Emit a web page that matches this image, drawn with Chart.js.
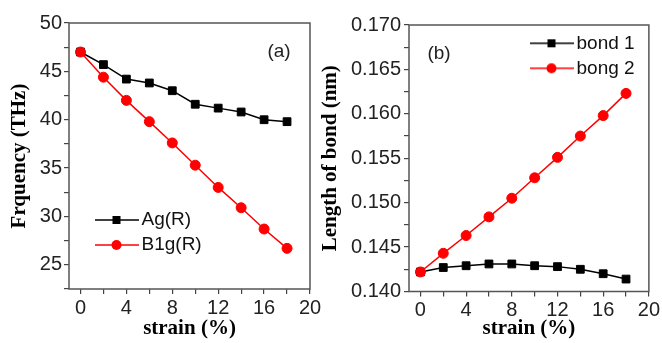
<!DOCTYPE html>
<html>
<head>
<meta charset="utf-8">
<script src="https://cdn.jsdelivr.net/npm/chart.js@4.4.0/dist/chart.umd.min.js"></script>
<style>
  body { margin: 0; background: #fff; }
  #wrap { position: relative; width: 662px; height: 343px; overflow: hidden; background: #fff; }
  #chartA { position: absolute; left: 0; top: 0; }
  #chartB { position: absolute; left: 305px; top: 0; }
</style>
</head>
<body>
<div id="wrap">
  <canvas id="chartA" width="331" height="343"></canvas>
  <canvas id="chartB" width="357" height="343"></canvas>
</div>
<script>
// datos
const strain = [0, 2, 4, 6, 8, 10, 12, 14, 16, 18];
const agR = [47.0, 45.7, 44.2, 43.8, 43.0, 41.6, 41.2, 40.8, 40.0, 39.8];
const b1gR = [47.0, 44.4, 42.0, 39.8, 37.6, 35.3, 33.0, 30.9, 28.7, 26.7];
const bond1 = [0.1422, 0.1427, 0.1429, 0.1431, 0.1431, 0.1429, 0.1428, 0.1425, 0.1420, 0.1414];
const bond2 = [0.1422, 0.1443, 0.1463, 0.1484, 0.1505, 0.1528, 0.1551, 0.1575, 0.1598, 0.1623];

const tickFont = { family: "Liberation Sans", size: 20 };
const legendFont = { family: "Liberation Sans", size: 19 };
const titleFont = { family: "Liberation Serif", size: 21, weight: "bold" };

function pts(ys) {
  return strain.map((x, i) => ({ x: x, y: ys[i] }));
}

// icono de leyenda: linea con marcador en el centro
function legendIcon(color, shape) {
  const c = document.createElement("canvas");
  c.width = 45;
  c.height = 14;
  const g = c.getContext("2d");
  g.strokeStyle = color;
  g.fillStyle = color;
  g.lineWidth = 1.5;
  g.beginPath();
  g.moveTo(0, 7);
  g.lineTo(45, 7);
  g.stroke();
  if (shape === "rect") {
    g.fillRect(22.5 - 4, 3, 8, 8);
  } else {
    g.beginPath();
    g.arc(22.5, 7, 5, 0, Math.PI * 2);
    g.fill();
  }
  return c;
}

function frame(label, lx, ly) {
  return {
    id: "frame",
    afterDraw(chart) {
      const a = chart.chartArea;
      const ctx = chart.ctx;
      ctx.save();
      ctx.strokeStyle = "#555";
      ctx.lineWidth = 1.5;
      ctx.strokeRect(a.left, a.top, a.right - a.left, a.bottom - a.top);
      ctx.fillStyle = "#222";
      ctx.font = "19px 'Liberation Sans'";
      ctx.textAlign = "center";
      ctx.textBaseline = "middle";
      ctx.fillText(label, lx, ly);
      ctx.restore();
    },
  };
}

function placeLegend(x, y) {
  return {
    id: "placeLegend",
    afterLayout(chart) {
      const lg = chart.legend;
      const p = lg.options.labels.padding;
      lg.left = x - p;
      lg.top = y - p;
    },
  };
}

function line(label, ys, color, shape, radius, order) {
  return {
    label: label,
    data: pts(ys),
    borderColor: color,
    backgroundColor: color,
    borderWidth: 1.5,
    pointStyle: shape,
    pointRadius: radius,
    pointBorderWidth: 1,
    tension: 0,
    order: order,
  };
}

function makeOptions(o) {
  return {
    responsive: false,
    animation: false,
    layout: { padding: o.padding },
    plugins: {
      tooltip: { enabled: false },
      legend: {
        position: "chartArea",
        align: "start",
        labels: {
          usePointStyle: true,
          pointStyleWidth: 31,
          padding: 6,
          color: "#111",
          font: legendFont,
          sort: (a, b) => a.datasetIndex - b.datasetIndex,
          generateLabels(chart) {
            const items = Chart.defaults.plugins.legend.labels.generateLabels(chart);
            items.forEach((it) => {
              const ds = chart.data.datasets[it.datasetIndex];
              it.pointStyle = legendIcon(ds.borderColor, ds.pointStyle);
            });
            return items;
          },
        },
      },
    },
    scales: {
      x: {
        type: "linear",
        min: -1,
        max: 20,
        ticks: {
          stepSize: 2,
          includeBounds: false,
          autoSkip: false,
          maxRotation: 0,
          padding: 2,
          color: "#222",
          font: tickFont,
          callback: (v) => (v % 4 === 0 ? String(v) : ""),
        },
        grid: { drawOnChartArea: false, tickLength: 5, color: "#444", lineWidth: 1.2 },
        border: { display: false },
        title: { display: true, text: "strain (%)", color: "#000", font: titleFont, padding: { top: 0, bottom: 2 } },
        afterFit(s) { s.height = o.xHeight; },
      },
      y: {
        min: o.yMin,
        max: o.yMax,
        ticks: {
          stepSize: o.yStep,
          autoSkip: false,
          padding: o.yPad,
          color: "#222",
          font: tickFont,
          callback: o.yLabel,
        },
        grid: { drawOnChartArea: false, tickLength: 5, color: "#444", lineWidth: 1.2 },
        border: { display: false },
        title: { display: true, text: o.yTitle, color: "#000", font: titleFont, padding: { top: o.titlePad, bottom: 0 } },
        afterFit(s) { s.width = o.yWidth; },
      },
    },
  };
}

new Chart(document.getElementById("chartA"), {
  type: "line",
  data: {
    datasets: [
      line("Ag(R)", agR, "#000000", "rect", 5.5, 1),
      line("B1g(R)", b1gR, "#ff0000", "circle", 5, 0),
    ],
  },
  options: makeOptions({
    padding: { left: 0, top: 23, right: 21, bottom: 0 },
    xHeight: 54,
    yWidth: 69,
    yMin: 22.5,
    yMax: 50,
    yStep: 2.5,
    yPad: 2,
    yTitle: "Frquency (THz)",
    titlePad: 7,
    yLabel: (v) => (v % 5 === 0 ? String(v) : ""),
  }),
  plugins: [frame("(a)", 279, 52), placeLegend(101, 210.5)],
});

new Chart(document.getElementById("chartB"), {
  type: "line",
  data: {
    datasets: [
      line("bond 1", bond1, "#000000", "rect", 5.5, 1),
      line("bong 2", bond2, "#ff0000", "circle", 5, 0),
    ],
  },
  options: makeOptions({
    padding: { left: 0, top: 25, right: 10, bottom: 0 },
    xHeight: 51.5,
    yWidth: 104,
    yMin: 0.14,
    yMax: 0.17,
    yStep: 0.0025,
    yPad: 3,
    yTitle: "Length of bond (nm)",
    titlePad: 13,
    yLabel: (v) => (Math.round(v * 10000) % 50 === 0 ? v.toFixed(3) : ""),
  }),
  plugins: [frame("(b)", 134, 54), placeLegend(231, 33.8)],
});
</script>
</body>
</html>
